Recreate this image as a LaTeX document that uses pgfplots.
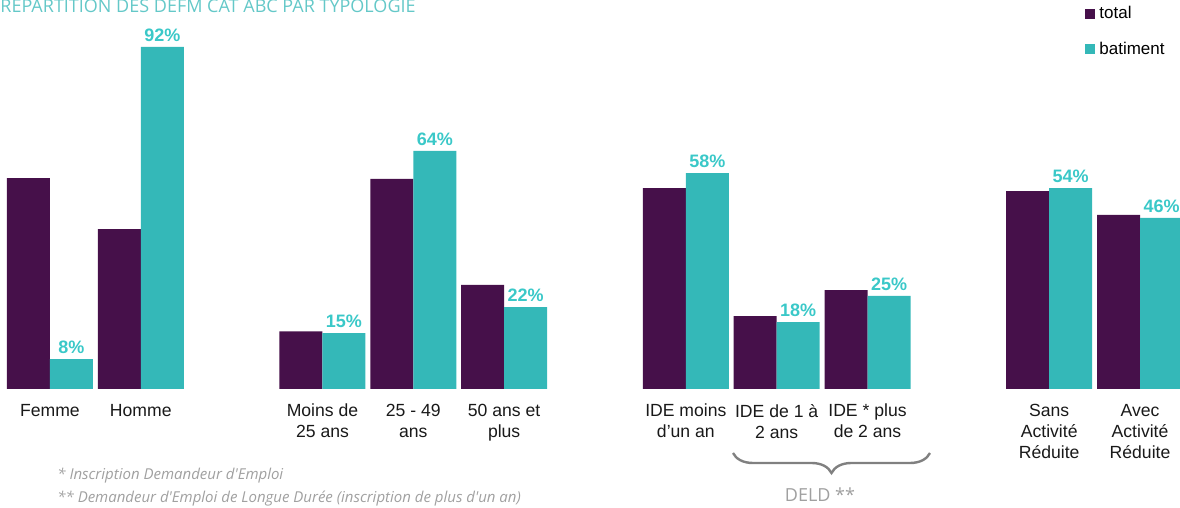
\documentclass[border=0pt]{standalone}
\usepackage{fontspec}
\setmainfont{Liberation Sans}
\newfontfamily\lightfont{Open Sans}
\usepackage{pgfplots}
\pgfplotsset{compat=1.18}
\usetikzlibrary{decorations.pathreplacing}
\definecolor{total}{RGB}{70,16,74}
\definecolor{bat}{RGB}{52,184,184}
\definecolor{batlab}{RGB}{58,200,200}
\definecolor{titl}{RGB}{100,200,200}
\definecolor{note}{RGB}{160,160,160}
\definecolor{bracec}{RGB}{128,128,128}
\begin{document}
\begin{tikzpicture}
\begin{axis}[
    scale only axis,
    width=590pt, height=254pt,
    xmin=-0.55, xmax=12.44,
    ymin=-31.99, ymax=104.57,
    enlargelimits=false,
    ybar=0pt, bar width=21.5pt,
    axis x line=middle, axis y line=none,
    axis line style={draw=none},
    major tick length=0pt,
    /pgf/number format/assume math mode=true,
    xtick={0,1,3,4,5,7,8,9,11,12},
    xticklabels={Femme, Homme, Moins de\\25 ans, 25 - 49\\ans, 50 ans et\\plus,
        IDE moins\\d'un an, IDE de 1 à\\2 ans, IDE * plus\\de 2 ans,
        Sans\\Activité\\Réduite, Avec\\Activité\\Réduite},
    xticklabel style={align=center, font=\fontsize{8.8}{10.5}\selectfont,
        text=black!90, yshift=-4pt},
    legend style={at={(rel axis cs:0.9195,0.996)}, anchor=north west,
        draw=none, fill=none, font=\fontsize{8.5}{10}\selectfont,
        legend cell align=left, row sep=6pt, inner sep=0pt},
    legend image code/.code={\fill[#1] (0pt,-2.5pt) rectangle (5pt,2.5pt);},
]
% total
\addplot[fill=total, draw=none] coordinates {
    (0,56.7) (1,43.0) (3,15.5) (4,56.5) (5,28.0)
    (7,54.0) (8,19.6) (9,26.6) (11,53.2) (12,46.8)
};
\addlegendentry{total}
% batiment
\addplot[fill=bat, draw=none,
    nodes near coords={\pgfmathprintnumber{\pgfplotspointmeta}\%},
    nodes near coords style={font=\bfseries\fontsize{9}{10}\selectfont, text=batlab, yshift=-1pt}]
    coordinates {
    (0,8) (1,92) (3,15) (4,64) (5,22)
    (7,58) (8,18) (9,25) (11,54) (12,46)
};
\addlegendentry{batiment}
\end{axis}
% title, notes and brace (1px = 0.5pt, origin at lower left)
\node[anchor=base west, inner sep=0, font=\lightfont\fontsize{9}{10}\selectfont, text=titl]
    at (0pt,247.5pt) {RÉPARTITION DES DEFM CAT ABC PAR TYPOLOGIE};
\node[anchor=base west, inner sep=0, font=\lightfont\itshape\fontsize{7.5}{9}\selectfont, text=note]
    at (28.5pt,14pt) {* Inscription Demandeur d'Emploi};
\node[anchor=base west, inner sep=0, font=\lightfont\itshape\fontsize{7.5}{9}\selectfont, text=note]
    at (28.5pt,2.5pt) {** Demandeur d'Emploi de Longue Durée (inscription de plus d'un an)};
\draw[bracec, line width=1.2pt, decorate, decoration={brace, mirror, amplitude=10pt}]
    (366.5pt,27.5pt) -- (465pt,27.5pt);
\node[anchor=base, inner sep=0, font=\lightfont\fontsize{9}{10}\selectfont, text=note]
    at (410pt,3pt) {DELD **};
\pgfresetboundingbox
\useasboundingbox (0pt,0pt) rectangle (590pt,254pt);
\end{tikzpicture}
\end{document}
